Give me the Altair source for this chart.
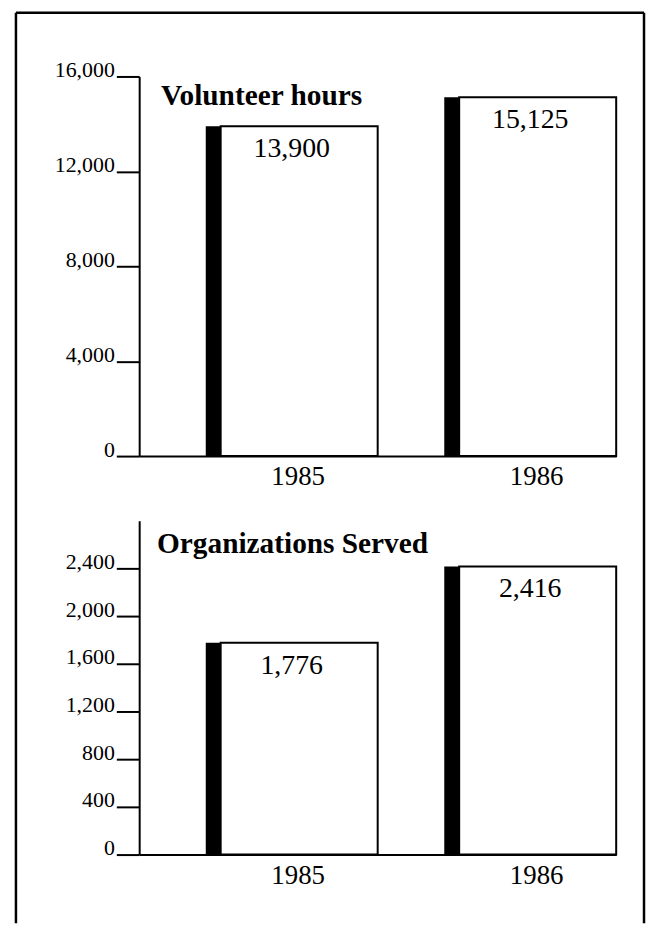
import altair as alt
import pandas as pd

years = ["1985", "1986"]
volunteer_hours = [13900, 15125]
organizations_served = [1776, 2416]
hours_ticks = [0, 4000, 8000, 12000, 16000]
org_ticks = [0, 400, 800, 1200, 1600, 2000, 2400]
hours_title = "Volunteer hours"
org_title = "Organizations Served"

FONT = "Liberation Serif"


def panel(values, ticks, domain_max, height, title, tdx, tdy, frame=False):
    df = pd.DataFrame({"year": years, "value": values})
    base = alt.Chart(df).encode(
        x=alt.X(
            "year:N",
            scale=alt.Scale(paddingInner=0, paddingOuter=0),
            axis=alt.Axis(
                title=None, labelAngle=0, ticks=False, labelOffset=40,
                labelPadding=8, labelFontSize=27, labelFont=FONT,
                labelColor="black", domainColor="black", domainWidth=2,
            ),
        ),
        y=alt.Y(
            "value:Q",
            stack=None,
            scale=alt.Scale(domain=[0, domain_max], nice=False, zero=True),
            axis=alt.Axis(
                title=None, values=ticks, format=",d", grid=False,
                tickSize=23, tickWidth=2, tickColor="black",
                domainColor="black", domainWidth=2,
                labelPadding=2, labelBaseline="alphabetic", labelFont=FONT,
                labelFontSize=22, labelColor="black",
            ),
        ),
    )
    shadow = base.mark_bar(color="black", width=15, xOffset=-45.5)
    box = base.mark_bar(fill="white", stroke="black", strokeWidth=2,
                        width=158, xOffset=41)
    labels = base.mark_text(
        font=FONT, fontSize=28, baseline="alphabetic", dy=31, xOffset=33.5,
        color="black",
    ).encode(text=alt.Text("value:Q", format=",d"))
    ttl = alt.Chart(alt.Data(values=[{}])).mark_text(
        text=title, font=FONT, fontSize=29.5, fontWeight="bold", align="left",
        baseline="alphabetic", color="black",
    ).encode(x=alt.value(tdx), y=alt.value(tdy))
    layers = [shadow, box, labels, ttl]
    if frame:
        one = alt.Data(values=[{}])
        fl = alt.Chart(one).mark_rule(color="black", strokeWidth=2.5).encode(
            x=alt.value(-124), y=alt.value(-64), y2=alt.value(852))
        ft = alt.Chart(one).mark_rule(color="black", strokeWidth=2.5).encode(
            x=alt.value(-124), x2=alt.value(508), y=alt.value(-64))
        fr = alt.Chart(one).mark_rule(color="black", strokeWidth=2.5).encode(
            x=alt.value(508), y=alt.value(-64), y2=alt.value(852))
        layers = [fl, ft, fr] + layers
    return alt.layer(*layers).properties(width=480, height=height)


top = panel(volunteer_hours, hours_ticks, 16000, 382, hours_title, 22, 29, frame=True)
bottom = panel(organizations_served, org_ticks, 2800, 336, org_title, 18, 33)

chart = alt.vconcat(top, bottom, spacing=65, bounds="flush").properties(
    padding={"left": 6, "top": 0, "right": 0, "bottom": 0},
    background="white",
).configure_view(strokeWidth=0)

chart.save("out.html", embed_options={"renderer": "svg", "actions": False})
